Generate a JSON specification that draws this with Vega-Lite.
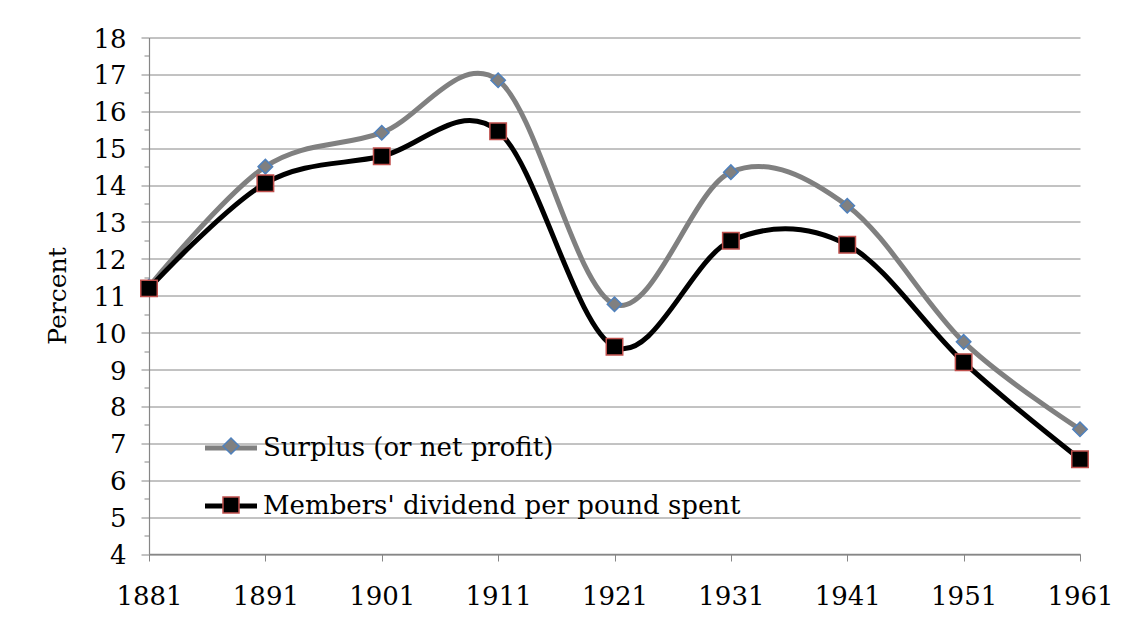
{
  "$schema": "https://vega.github.io/schema/vega-lite/v6.json",
  "width": 931,
  "height": 516.5,
  "autosize": {"type": "none"},
  "padding": {"left": 149, "top": 37.5, "right": 49, "bottom": 76},
  "background": "#ffffff",
  "config": {"view": {"stroke": null}, "font": "DejaVu Serif"},
  "data": {
    "values": [
      {"year": 1881, "series": "Surplus (or net profit)", "percent": 11.25},
      {"year": 1891, "series": "Surplus (or net profit)", "percent": 14.5},
      {"year": 1901, "series": "Surplus (or net profit)", "percent": 15.42},
      {"year": 1911, "series": "Surplus (or net profit)", "percent": 16.84},
      {"year": 1921, "series": "Surplus (or net profit)", "percent": 10.77},
      {"year": 1931, "series": "Surplus (or net profit)", "percent": 14.35},
      {"year": 1941, "series": "Surplus (or net profit)", "percent": 13.44},
      {"year": 1951, "series": "Surplus (or net profit)", "percent": 9.75},
      {"year": 1961, "series": "Surplus (or net profit)", "percent": 7.38},
      {"year": 1881, "series": "Members' dividend per pound spent", "percent": 11.2},
      {"year": 1891, "series": "Members' dividend per pound spent", "percent": 14.05},
      {"year": 1901, "series": "Members' dividend per pound spent", "percent": 14.78},
      {"year": 1911, "series": "Members' dividend per pound spent", "percent": 15.46},
      {"year": 1921, "series": "Members' dividend per pound spent", "percent": 9.62},
      {"year": 1931, "series": "Members' dividend per pound spent", "percent": 12.49},
      {"year": 1941, "series": "Members' dividend per pound spent", "percent": 12.38},
      {"year": 1951, "series": "Members' dividend per pound spent", "percent": 9.2},
      {"year": 1961, "series": "Members' dividend per pound spent", "percent": 6.57}
    ]
  },
  "encoding": {
    "x": {
      "field": "year",
      "type": "quantitative",
      "scale": {"domain": [1881, 1961], "nice": false, "zero": false},
      "axis": {
        "values": [1881, 1891, 1901, 1911, 1921, 1931, 1941, 1951, 1961],
        "format": "d",
        "grid": false,
        "title": null,
        "domainColor": "#868686",
        "domainWidth": 1.5,
        "tickColor": "#868686",
        "tickSize": 7,
        "tickWidth": 1,
        "labelFont": "DejaVu Serif",
        "labelFontSize": 26,
        "labelColor": "#000000",
        "labelPadding": 22,
        "labelFlush": false,
        "labelOverlap": false
      }
    }
  },
  "layer": [
    {
      "mark": {"type": "line", "interpolate": "cardinal", "tension": 0, "strokeWidth": 5},
      "encoding": {
        "y": {
          "field": "percent",
          "type": "quantitative",
          "scale": {"domain": [4, 18], "nice": false, "zero": false},
          "axis": {
            "orient": "left",
            "values": [4, 5, 6, 7, 8, 9, 10, 11, 12, 13, 14, 15, 16, 17, 18],
            "grid": true,
            "gridColor": "#868686",
            "gridWidth": 1,
            "domainColor": "#868686",
            "domainWidth": 1.2,
            "tickColor": "#868686",
            "tickSize": 8,
            "tickWidth": 1,
            "labelFont": "DejaVu Serif",
            "labelFontSize": 26,
            "labelColor": "#000000",
            "labelPadding": 15,
            "labelOffset": 1.5,
            "labelFlush": false,
            "labelOverlap": false,
            "title": "Percent",
            "titleFont": "DejaVu Serif",
            "titleFontSize": 25,
            "titleFontWeight": "normal",
            "titleColor": "#000000",
            "titleAngle": -90,
            "titleBaseline": "alphabetic",
            "titleAlign": "center",
            "titleX": -84,
            "titleY": 258
          }
        },
        "color": {
          "field": "series",
          "type": "nominal",
          "sort": "descending",
          "scale": {"range": ["#808080", "#000000"]},
          "legend": {
            "title": null,
            "orient": "none",
            "legendX": 53.5,
            "legendY": 382,
            "padding": 0,
            "symbolType": "stroke",
            "symbolSize": 2704,
            "symbolStrokeWidth": 5,
            "symbolOffset": 0,
            "labelOffset": 3.5,
            "rowPadding": 16,
            "labelFont": "DejaVu Serif",
            "labelFontSize": 26,
            "labelColor": "#000000",
            "labelLimit": 800
          }
        }
      }
    },
    {
      "mark": {"type": "point", "filled": true, "opacity": 1, "strokeWidth": 1.5, "strokeOpacity": 1, "fillOpacity": 1},
      "encoding": {
        "y": {
          "field": "percent",
          "type": "quantitative",
          "scale": {"domain": [4, 18], "nice": false, "zero": false},
          "axis": {
            "orient": "left",
            "values": [4.5, 5.5, 6.5, 7.5, 8.5, 9.5, 10.5, 11.5, 12.5, 13.5, 14.5, 15.5, 16.5, 17.5],
            "grid": false,
            "domain": false,
            "labels": false,
            "tickColor": "#868686",
            "tickSize": 5,
            "tickWidth": 1,
            "title": null
          }
        },
        "shape": {
          "field": "series",
          "type": "nominal",
          "scale": {"domain": ["Surplus (or net profit)", "Members' dividend per pound spent"], "range": ["diamond", "square"]},
          "legend": {
            "title": null,
            "orient": "none",
            "legendX": 70,
            "legendY": 396.5,
            "padding": 0,
            "symbolSize": 256,
            "symbolStrokeWidth": 1.5,
            "symbolOffset": 0,
            "labelOffset": 3.5,
            "rowPadding": 35,
            "labelExpr": "''",
            "labelFont": "DejaVu Serif",
            "labelFontSize": 24,
            "labelLimit": 800
          }
        },
        "fill": {
          "field": "series",
          "type": "nominal",
          "scale": {"domain": ["Surplus (or net profit)", "Members' dividend per pound spent"], "range": ["#808080", "#000000"]},
          "legend": {
            "title": null,
            "orient": "none",
            "legendX": 70,
            "legendY": 396.5,
            "padding": 0,
            "symbolSize": 256,
            "symbolStrokeWidth": 1.5,
            "symbolOffset": 0,
            "labelOffset": 3.5,
            "rowPadding": 35,
            "labelExpr": "''",
            "labelFont": "DejaVu Serif",
            "labelFontSize": 24,
            "labelLimit": 800
          }
        },
        "stroke": {
          "field": "series",
          "type": "nominal",
          "scale": {"domain": ["Surplus (or net profit)", "Members' dividend per pound spent"], "range": ["#4f81bd", "#c0504d"]},
          "legend": {
            "title": null,
            "orient": "none",
            "legendX": 70,
            "legendY": 396.5,
            "padding": 0,
            "symbolSize": 256,
            "symbolStrokeWidth": 1.5,
            "symbolOffset": 0,
            "labelOffset": 3.5,
            "rowPadding": 35,
            "labelExpr": "''",
            "labelFont": "DejaVu Serif",
            "labelFontSize": 24,
            "labelLimit": 800
          }
        },
        "size": {
          "condition": {"test": "datum.series === 'Surplus (or net profit)'", "value": 210},
          "value": 272
        }
      }
    }
  ],
  "resolve": {"axis": {"y": "independent"}}
}
